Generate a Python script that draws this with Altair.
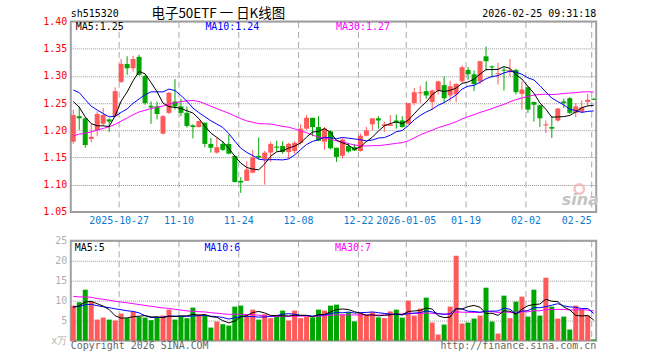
import altair as alt
import pandas as pd

# ---------------- data ----------------
tick_idx = [8, 18, 28, 38, 48, 56, 66, 76, 87]
tick_labels = ["2025-10-27", "11-10", "11-24", "12-08", "12-22",
               "2026-01-05", "01-19", "02-02", "02-25"]

open_p = [1.179, 1.226, 1.222, 1.184, 1.200, 1.212, 1.220, 1.226, 1.289, 1.322,
          1.314, 1.335, 1.300, 1.245, 1.244, 1.194, 1.232, 1.253, 1.244, 1.232,
          1.209, 1.206, 1.214, 1.175, 1.159, 1.175, 1.175, 1.153, 1.107, 1.107,
          1.122, 1.153, 1.147, 1.159, 1.170, 1.171, 1.160, 1.162, 1.177, 1.203,
          1.223, 1.206, 1.179, 1.198, 1.168, 1.153, 1.171, 1.169, 1.162, 1.190,
          1.211, 1.222, 1.208, 1.208, 1.218, 1.218, 1.212, 1.250, 1.268, 1.272,
          1.252, 1.273, 1.283, 1.264, 1.266, 1.290, 1.311, 1.303, 1.290, 1.336,
          1.317, 1.303, 1.311, 1.307, 1.311, 1.267, 1.279, 1.252, 1.246, 1.209,
          1.206, 1.218, 1.253, 1.259, 1.232, 1.234, 1.252, 1.258]
high_p = [1.238, 1.244, 1.224, 1.211, 1.235, 1.241, 1.222, 1.279, 1.331, 1.336,
          1.337, 1.339, 1.302, 1.253, 1.253, 1.228, 1.270, 1.294, 1.258, 1.244,
          1.211, 1.218, 1.214, 1.186, 1.186, 1.180, 1.192, 1.153, 1.114, 1.143,
          1.164, 1.187, 1.162, 1.179, 1.181, 1.180, 1.177, 1.180, 1.211, 1.228,
          1.223, 1.226, 1.206, 1.200, 1.168, 1.186, 1.177, 1.175, 1.194, 1.206,
          1.222, 1.226, 1.216, 1.228, 1.229, 1.226, 1.250, 1.278, 1.282, 1.290,
          1.275, 1.291, 1.299, 1.291, 1.287, 1.319, 1.316, 1.310, 1.328, 1.354,
          1.319, 1.324, 1.316, 1.331, 1.313, 1.290, 1.281, 1.253, 1.246, 1.218,
          1.226, 1.241, 1.258, 1.261, 1.250, 1.255, 1.267, 1.259]
low_p = [1.175, 1.201, 1.168, 1.178, 1.189, 1.208, 1.197, 1.224, 1.287, 1.302,
         1.308, 1.300, 1.247, 1.212, 1.220, 1.192, 1.230, 1.238, 1.226, 1.205,
         1.185, 1.205, 1.169, 1.159, 1.157, 1.162, 1.156, 1.104, 1.085, 1.107,
         1.121, 1.147, 1.100, 1.142, 1.161, 1.157, 1.148, 1.157, 1.174, 1.201,
         1.189, 1.180, 1.164, 1.165, 1.142, 1.148, 1.159, 1.162, 1.161, 1.189,
         1.200, 1.203, 1.197, 1.208, 1.203, 1.205, 1.211, 1.246, 1.250, 1.258,
         1.238, 1.266, 1.250, 1.253, 1.252, 1.287, 1.293, 1.272, 1.285, 1.310,
         1.297, 1.284, 1.273, 1.299, 1.266, 1.238, 1.232, 1.216, 1.206, 1.195,
         1.186, 1.216, 1.241, 1.230, 1.224, 1.232, 1.244, 1.256]
close_p = [1.228, 1.222, 1.173, 1.188, 1.230, 1.228, 1.216, 1.272, 1.322, 1.314,
           1.331, 1.302, 1.250, 1.242, 1.230, 1.226, 1.269, 1.244, 1.232, 1.208,
           1.206, 1.217, 1.175, 1.168, 1.169, 1.164, 1.157, 1.105, 1.104, 1.128,
           1.150, 1.150, 1.159, 1.175, 1.168, 1.160, 1.175, 1.177, 1.203, 1.223,
           1.206, 1.181, 1.203, 1.167, 1.151, 1.183, 1.161, 1.163, 1.190, 1.200,
           1.222, 1.218, 1.211, 1.211, 1.215, 1.206, 1.250, 1.270, 1.270, 1.264,
           1.273, 1.290, 1.259, 1.281, 1.285, 1.316, 1.303, 1.285, 1.327, 1.327,
           1.316, 1.305, 1.310, 1.311, 1.270, 1.275, 1.238, 1.247, 1.222, 1.211,
           1.203, 1.240, 1.250, 1.232, 1.244, 1.242, 1.256, 1.256]
volume = [8.75, 9.6, 12.75, 9.8, 5.25, 5.75, 5.25, 5.0, 6.75, 5.6,
          7.25, 5.9, 5.75, 5.1, 5.7, 6.25, 7.75, 5.25, 6.0, 5.6,
          8.25, 6.6, 6.25, 3.25, 4.75, 4.1, 3.75, 8.5, 8.75, 6.25,
          7.75, 5.25, 6.6, 5.6, 6.0, 7.5, 5.0, 7.5, 5.6, 6.0,
          5.8, 7.75, 7.5, 8.75, 9.0, 6.5, 7.1, 4.8, 6.8, 6.4,
          7.1, 5.8, 5.6, 7.3, 7.75, 5.75, 10.0, 6.25, 8.0, 10.75,
          4.5, 1.5, 4.0, 8.5, 21.25, 4.25, 4.5, 5.5, 6.25, 13.25,
          4.75, 1.75, 11.25, 5.6, 9.75, 11.0, 6.0, 12.75, 6.25, 15.75,
          8.5, 5.5, 6.0, 2.75, 8.75, 7.75, 6.25, 0.25]
# earlier sessions (before the first candle), estimated from where the MA lines start
prior_close = [1.120, 1.125, 1.118, 1.130, 1.135, 1.128, 1.140, 1.138, 1.145, 1.150,
               1.148, 1.155, 1.152, 1.160, 1.158, 1.165, 1.162, 1.170, 1.168, 1.184,
               1.270, 1.300, 1.310, 1.300, 1.295, 1.275, 1.262, 1.250, 1.250]
prior_volume = [14, 13, 12.5, 15, 11, 12, 13.5, 12, 11.5, 14,
                12, 13, 11, 12.5, 12, 11, 12.5, 12, 11.5, 11.5,
                9.5, 8.0, 9.0, 8.5, 8.5, 7.5, 8.0, 9.0, 8.25]

# ---------------- styling ----------------
MONO = "DejaVu Sans Mono"
RED = "#ff5a5a"
GREEN = "#00a600"
LBL_BLUE = "#0a7ad0"
GRID = "#a8a8a8"
W, H1, H2 = 527, 191, 100

n = len(close_p)
k = len(prior_close)
pc = pd.Series(prior_close + close_p)
pv = pd.Series(prior_volume + volume)
df = pd.DataFrame({"i": range(n), "o": open_p, "h": high_p, "l": low_p,
                   "c": close_p, "v": volume})
df["dir"] = ["up" if c > o else "down" for o, c in zip(open_p, close_p)]
df["x0"] = df["i"] - 5 / 12
df["x1"] = df["i"] + 5 / 12
hi = df[["o", "c"]].max(axis=1)
lo = df[["o", "c"]].min(axis=1)
mid = (hi + lo) / 2
thin = (hi - lo) < 0.0019
df["bt"] = hi.where(~thin, mid + 0.00095)
df["bb"] = lo.where(~thin, mid - 0.00095)
for w in (5, 10, 30):
    df[f"ma{w}"] = pc.rolling(w).mean().iloc[k:].values
    df[f"vma{w}"] = pv.rolling(w).mean().iloc[k:].values
df["v0"] = 0.0

x0 = -5 / 12
xs = alt.Scale(domain=[x0, x0 + W / 6], nice=False, zero=False)
ys_p = alt.Scale(domain=[1.05, 1.40], nice=False, zero=False)
ys_v = alt.Scale(domain=[0, 25], nice=False, zero=True)
grid_vals = [t - 5 / 12 for t in tick_idx]
lab_expr = "".join(f"round(datum.value)=={t}?'{s}':" for t, s in zip(tick_idx, tick_labels)) + "''"

x_axis_top = alt.Axis(values=grid_vals, labelExpr=lab_expr, grid=True, gridDash=[6, 4],
                      gridColor=GRID, ticks=False, domain=False, labelFont=MONO,
                      labelFontSize=10, labelColor=LBL_BLUE, labelPadding=4,
                      labelFlush=5, labelOverlap=False, title=None)
x_axis_bot = alt.Axis(values=grid_vals, labels=False, grid=True, gridDash=[6, 4],
                      gridColor=GRID, ticks=False, domain=False, title=None)
y_axis_p = alt.Axis(values=[1.05, 1.10, 1.15, 1.20, 1.25, 1.30, 1.35, 1.40], format=".2f",
                    grid=True, gridDash=[1, 1], gridColor="#999", ticks=False, domain=False,
                    labelFont=MONO, labelFontSize=10, labelColor="#ff0000",
                    labelPadding=4, title=None)
y_axis_v = alt.Axis(values=[0, 5, 10, 15, 20, 25], grid=True, gridDash=[1, 1],
                    gridColor="#999", ticks=False, domain=False,
                    labelExpr="datum.value==0?'x万':datum.label",
                    labelFont=MONO, labelFontSize=10, labelColor="#b0b0b0",
                    labelPadding=4, title=None)

color = alt.Color("dir:N", scale=alt.Scale(domain=["up", "down"], range=[RED, GREEN]),
                  legend=None)

one = pd.DataFrame({"a": [0]})


def txt(s, x, y, color="black", size=10, font=MONO, align="left", **kw):
    return alt.Chart(one).mark_text(text=s, align=align, baseline="middle", font=font,
                                    fontSize=size, color=color, **kw).encode(
        x=alt.value(x), y=alt.value(y))


def bound(x1, x2, y1, y2):
    return alt.Chart(one).mark_rect(opacity=0).encode(
        x=alt.value(x1), x2=alt.value(x2), y=alt.value(y1), y2=alt.value(y2))


base = alt.Chart(df)

# ---------------- price panel ----------------
wicks = base.mark_rule(strokeWidth=1).encode(
    x=alt.X("i:Q", scale=xs, axis=x_axis_top),
    y=alt.Y("l:Q", scale=ys_p, axis=y_axis_p), y2="h:Q", color=color)
bodies = base.mark_rect().encode(
    x=alt.X("x0:Q", scale=xs, axis=x_axis_top), x2="x1:Q",
    y=alt.Y("bb:Q", scale=ys_p, axis=y_axis_p), y2="bt:Q", color=color)


def ma_line(field, col, scale, axis, xaxis):
    return base.mark_line(strokeWidth=1, color=col, interpolate="linear").encode(
        x=alt.X("i:Q", scale=xs, axis=xaxis),
        y=alt.Y(f"{field}:Q", scale=scale, axis=axis))


logo = alt.Chart(one).mark_point(shape="circle", size=90, filled=False, stroke="#f2a8a8",
                                 strokeWidth=2.5, opacity=0.7).encode(
    x=alt.value(510), y=alt.value(168))

price = alt.layer(
    bound(-70, 590, -20, 0),
    wicks, bodies,
    ma_line("ma30", "#ff00ff", ys_p, y_axis_p, x_axis_top),
    ma_line("ma10", "#0000ff", ys_p, y_axis_p, x_axis_top),
    ma_line("ma5", "#000000", ys_p, y_axis_p, x_axis_top),
    txt("MA5:1.25", 5, 6),
    txt("MA10:1.24", 135, 6, color="#0000ff"),
    txt("MA30:1.27", 266, 6, color="#ff00ff"),
    txt("sh515320", 0, -7),
    txt("电子50ETF 一 日K线图", 81, -7, size=13.5, font="Noto Sans CJK SC"),
    txt("2026-02-25 09:31:18", 527, -7, align="right"),
    logo,
    txt("sina", 511, 179, color="#c4c4c4", size=16, font="DejaVu Sans",
        fontStyle="italic", fontWeight="bold", align="center"),
).properties(width=W, height=H1)

# ---------------- volume panel ----------------
vbars = base.mark_rect().encode(
    x=alt.X("x0:Q", scale=xs, axis=x_axis_bot), x2="x1:Q",
    y=alt.Y("v0:Q", scale=ys_v, axis=y_axis_v), y2="v:Q", color=color)

vol = alt.layer(
    bound(-70, 590, 100, 120),
    vbars,
    ma_line("vma30", "#ff00ff", ys_v, y_axis_v, x_axis_bot),
    ma_line("vma10", "#0000ff", ys_v, y_axis_v, x_axis_bot),
    ma_line("vma5", "#000000", ys_v, y_axis_v, x_axis_bot),
    txt("MA5:5", 4, 7),
    txt("MA10:6", 134, 7, color="#0000ff"),
    txt("MA30:7", 265, 7, color="#ff00ff"),
    txt("Copyright 2026 SINA.COM", 0, 106, color="#666666"),
    txt("http://finance.sina.com.cn", 527, 106, color="#666666", align="right"),
).properties(width=W, height=H2)

chart = alt.vconcat(price, vol, spacing=29, bounds="flush").resolve_scale(
    x="independent", y="independent", color="shared"
).configure(padding=0, background="white").configure_view(
    stroke="#a0a0a0", strokeWidth=2)

chart.save("out.html", embed_options={"renderer": "svg", "actions": False})
